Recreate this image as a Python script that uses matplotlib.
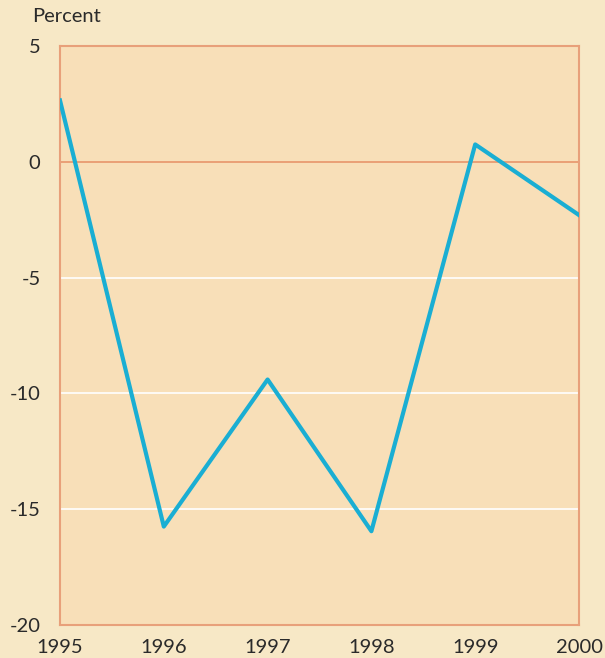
import matplotlib.pyplot as plt

plt.rcParams['font.family'] = ['Lato', 'DejaVu Sans']

years = [1995, 1996, 1997, 1998, 1999, 2000]
values = [2.65, -15.75, -9.4, -15.95, 0.75, -2.3]
yticks = [5, 0, -5, -10, -15, -20]

fig = plt.figure(figsize=(6.05, 6.58), dpi=100, facecolor='#F7E8C6')
ax = fig.add_axes([60 / 605, 33 / 658, 519 / 605, 579 / 658])
ax.set_facecolor('#F8DFB8')

# white gridlines, orange zero line
for y in [-5, -10, -15]:
    ax.axhline(y, color='white', lw=1.2, zorder=1)
ax.axhline(0, color='#E8956B', lw=1.2, zorder=1)

ax.plot(years, values, color='#1AAED3', lw=3, zorder=3)

ax.set_xlim(1995, 2000)
ax.set_ylim(-20, 5)
ax.set_xticks(years)
ax.set_yticks(yticks)
ax.set_yticklabels([str(t) for t in yticks])
ax.tick_params(length=0, labelsize=14.5, colors='#2a2a2a', pad=10)
ax.tick_params(axis='y', pad=14)
for s in ax.spines.values():
    s.set_color('#E8A07A')
    s.set_linewidth(1.5)

fig.text(32 / 605, 1 - 17 / 658, 'Percent', fontsize=14.5, color='#2a2a2a', va='center', ha='left')

fig.savefig('out.png', dpi=100, facecolor=fig.get_facecolor())
